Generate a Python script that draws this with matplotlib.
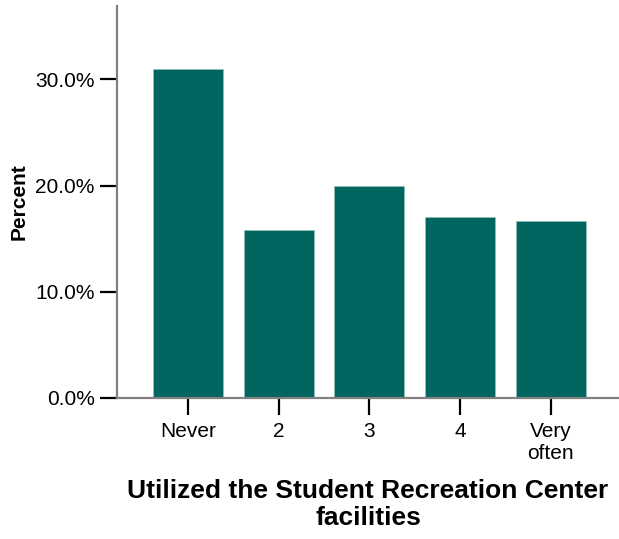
import matplotlib
matplotlib.use('Agg')
import matplotlib.pyplot as plt
from matplotlib.ticker import FuncFormatter

categories = ['Never', '2', '3', '4', 'Very\noften']
percents = [31.0, 15.8, 20.0, 17.0, 16.7]
yticks = [0, 10, 20, 30]

plt.rcParams['font.family'] = ['Liberation Sans', 'DejaVu Sans']

fig = plt.figure(figsize=(6.19, 5.39), dpi=100)
ax = fig.add_axes([0.189, 0.2616, 0.811, 0.7273])

x = range(len(categories))
ax.bar(x, percents, width=0.77, color='#00665F', edgecolor='#8fbfbb', linewidth=0.6, zorder=2)

ax.set_xlim(-0.78, 4.75)
ax.set_ylim(0, 36.9)
ax.set_xticks(list(x))
ax.set_xticklabels(categories, fontsize=15, linespacing=1.2)
ax.set_yticks(yticks)
ax.yaxis.set_major_formatter(FuncFormatter(lambda v, p: f'{v:.1f}%'))
ax.tick_params(axis='y', labelsize=15, length=12, width=1.6, color='black', pad=4)
ax.tick_params(axis='x', length=12, width=1.6, color='black', pad=5)

for side in ['top', 'right']:
    ax.spines[side].set_visible(False)
for side in ['left', 'bottom']:
    ax.spines[side].set_color('#808080')
    ax.spines[side].set_linewidth(1.6)

ax.set_ylabel('Percent', fontsize=15, fontweight='bold', labelpad=5)
ax.set_xlabel('Utilized the Student Recreation Center\nfacilities', fontsize=19,
              fontweight='bold', labelpad=12, linespacing=1.12)

fig.savefig('out.png', dpi=100)
